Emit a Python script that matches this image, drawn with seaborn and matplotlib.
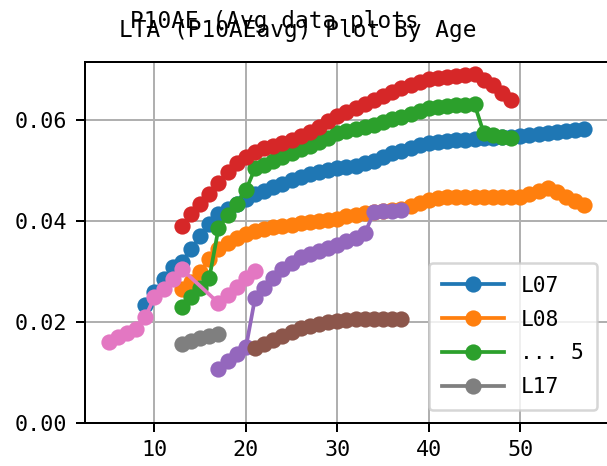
import matplotlib
matplotlib.use("Agg")
import matplotlib.pyplot as plt
import seaborn as sns
import pandas as pd

# series values (age -> LTA avg)
l07_age = list(range(9, 58))
l07_val = [0.0235, 0.026, 0.0285, 0.031, 0.032, 0.0345, 0.037, 0.0395, 0.0415, 0.0425,
           0.0435, 0.0445, 0.0455, 0.046, 0.0468, 0.0475, 0.0482, 0.0488, 0.0493, 0.0498,
           0.0502, 0.0505, 0.0508, 0.051, 0.0515, 0.052, 0.0528, 0.0535, 0.054, 0.0546,
           0.0551, 0.0555, 0.0557, 0.0559, 0.0561, 0.0562, 0.0563, 0.0565, 0.0566, 0.0567,
           0.0568, 0.057, 0.0572, 0.0574, 0.0576, 0.0578, 0.058, 0.0582, 0.0584]

l08_age = list(range(13, 58))
l08_val = [0.0265, 0.028, 0.030, 0.0325, 0.0345, 0.0357, 0.0367, 0.0374, 0.038, 0.0385,
           0.0388, 0.039, 0.0393, 0.0396, 0.0398, 0.04, 0.0403, 0.0405, 0.041, 0.0413,
           0.0416, 0.0418, 0.042, 0.0422, 0.0425, 0.043, 0.0437, 0.0443, 0.0447, 0.0448,
           0.0448, 0.0448, 0.0448, 0.0448, 0.0448, 0.0448, 0.0449, 0.0449, 0.0455, 0.046,
           0.0467, 0.0458, 0.0448, 0.044, 0.0432]

grn_age = list(range(13, 50))
grn_val = [0.023, 0.025, 0.0268, 0.0288, 0.0386, 0.0412, 0.0435, 0.0462, 0.0505, 0.0512,
           0.052, 0.0527, 0.0535, 0.0543, 0.055, 0.0558, 0.0566, 0.0575, 0.0579, 0.0583,
           0.0588, 0.0592, 0.0597, 0.0602, 0.0607, 0.0613, 0.0619, 0.0624, 0.0627, 0.0629,
           0.063, 0.0631, 0.0632, 0.0576, 0.0572, 0.0568, 0.0565]

red_age = list(range(13, 50))
red_val = [0.039, 0.0414, 0.0435, 0.0455, 0.0477, 0.0497, 0.0515, 0.0528, 0.0538, 0.0545,
           0.055, 0.0555, 0.0562, 0.057, 0.0578, 0.0588, 0.0598, 0.0608, 0.0617, 0.0625,
           0.0633, 0.064, 0.0648, 0.0656, 0.0664, 0.0671, 0.0677, 0.0682, 0.0685, 0.0687,
           0.0688, 0.069, 0.0692, 0.068, 0.067, 0.0655, 0.064]

pur_age = list(range(17, 38))
pur_val = [0.0108, 0.0123, 0.0137, 0.015, 0.0248, 0.0268, 0.0287, 0.0305, 0.0318, 0.0329,
           0.0336, 0.0342, 0.0348, 0.0354, 0.036, 0.0366, 0.0376, 0.0418, 0.042, 0.0421,
           0.0422]

brn_age = list(range(21, 38))
brn_val = [0.0149, 0.0157, 0.0165, 0.0173, 0.0181, 0.0188, 0.0193, 0.0197, 0.02, 0.0203,
           0.0205, 0.0206, 0.0207, 0.0207, 0.0207, 0.0207, 0.0207]

pnk_age = [5, 6, 7, 8, 9, 10, 11, 12, 13, 17, 18, 19, 20, 21]
pnk_val = [0.016, 0.017, 0.0178, 0.0186, 0.021, 0.025, 0.0265, 0.0285, 0.0305,
           0.0238, 0.0253, 0.027, 0.0288, 0.0302]

l17_age = [13, 14, 15, 16, 17]
l17_val = [0.0157, 0.0163, 0.0168, 0.0172, 0.0176]

series_names = ["L07", "L08", "... 5", "L09", "L10", "L11", "L12", "L17"]
legend_names = ["L07", "L08", "... 5", "L17"]

frames = []
for name, ages, vals in zip(series_names,
                            [l07_age, l08_age, grn_age, red_age, pur_age, brn_age, pnk_age, l17_age],
                            [l07_val, l08_val, grn_val, red_val, pur_val, brn_val, pnk_val, l17_val]):
    frames.append(pd.DataFrame({"age": ages, "value": vals, "series": name}))
df = pd.concat(frames, ignore_index=True)

plt.rcParams['font.family'] = ['DejaVu Sans Mono']
plt.rcParams['font.size'] = 8.7

fig = plt.figure(figsize=(607 / 180, 466 / 180), dpi=180)
ax = fig.add_axes([85 / 607, 43 / 466, 523 / 607, 361 / 466])

palette = dict(zip(series_names, sns.color_palette("tab10", 8)))
sns.lineplot(data=df, x="age", y="value", hue="series", palette=palette,
             estimator=None, marker="o", markersize=6.5, markeredgewidth=0,
             linewidth=1.5, legend=False, ax=ax)

ax.set_ylim(0, 0.0716)
ax.set_yticks([0.0, 0.02, 0.04, 0.06])
ax.set_xticks([10, 20, 30, 40, 50])
ax.set_xlabel("")
ax.set_ylabel("")
ax.grid(True)

ax.set_title("LTA (P10AEavg) Plot By Age", fontsize=9.1, x=(298 - 85) / 523, pad=10)
fig.suptitle("P10AE (Avg data plots", fontsize=9.1, x=274 / 607, y=1 - 28 / 466, va="baseline")

lines = ax.get_lines()
handles = [lines[i] for i in (0, 1, 2, 7)]
ax.legend(handles, legend_names, loc="lower right", fontsize=8.5, handlelength=2.9,
          labelspacing=0.65, borderpad=0.6, borderaxespad=0,
          bbox_to_anchor=(597 / 607, 56 / 466), bbox_transform=fig.transFigure)

fig.savefig("out.png", dpi=180)
